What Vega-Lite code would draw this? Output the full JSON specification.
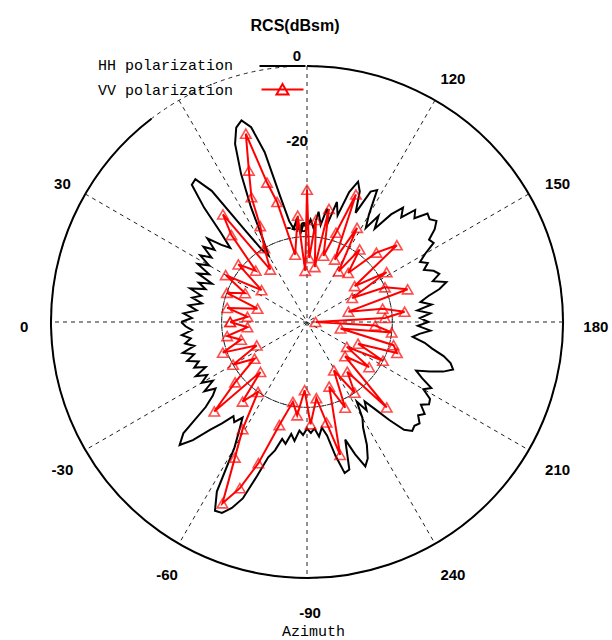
{
  "$schema": "https://vega.github.io/schema/vega-lite/v6.json",
  "width": 600,
  "height": 600,
  "autosize": {"type": "none"},
  "padding": {"left": 7, "top": 22, "right": 5, "bottom": 18},
  "background": "white",
  "config": {"view": {"stroke": null}, "axisY": {"disable": true}},
  "title": {"text": "RCS(dBsm)", "font": "Liberation Sans", "fontSize": 16, "fontWeight": "bold", "anchor": "middle", "offset": -12, "dx": -12, "color": "black"},
  "datasets": {
    "rcs": [
      {"s":"HH","az":0,"v":-30.5},{"s":"HH","az":2,"v":-33},{"s":"HH","az":4,"v":-31},{"s":"HH","az":6,"v":-34},{"s":"HH","az":8,"v":-32},{"s":"HH","az":10,"v":-35},{"s":"HH","az":12,"v":-32.5},{"s":"HH","az":14,"v":-34.5},{"s":"HH","az":16,"v":-31.5},{"s":"HH","az":18,"v":-35},{"s":"HH","az":20,"v":-33},{"s":"HH","az":22,"v":-36},{"s":"HH","az":24,"v":-32},{"s":"HH","az":26,"v":-34.5},{"s":"HH","az":28,"v":-31},{"s":"HH","az":30,"v":-33.5},{"s":"HH","az":32,"v":-30.5},{"s":"HH","az":34,"v":-33},{"s":"HH","az":36,"v":-30},{"s":"HH","az":38,"v":-32.5},{"s":"HH","az":40,"v":-29.5},{"s":"HH","az":42,"v":-33},{"s":"HH","az":44,"v":-35},{"s":"HH","az":46,"v":-31},{"s":"HH","az":48,"v":-24},{"s":"HH","az":50,"v":-18},{"s":"HH","az":52,"v":-17.5},{"s":"HH","az":54,"v":-22},{"s":"HH","az":56,"v":-34},{"s":"HH","az":58,"v":-40},{"s":"HH","az":60,"v":-42},{"s":"HH","az":62,"v":-38},{"s":"HH","az":64,"v":-30},{"s":"HH","az":66,"v":-22},{"s":"HH","az":68,"v":-15},{"s":"HH","az":70,"v":-11.5},{"s":"HH","az":72,"v":-10.3},{"s":"HH","az":74,"v":-12.5},{"s":"HH","az":76,"v":-19},{"s":"HH","az":78,"v":-30},{"s":"HH","az":80,"v":-36},{"s":"HH","az":82,"v":-38},{"s":"HH","az":84,"v":-36},{"s":"HH","az":86,"v":-39},{"s":"HH","az":88,"v":-37},{"s":"HH","az":90,"v":-38},{"s":"HH","az":92,"v":-36},{"s":"HH","az":94,"v":-38},{"s":"HH","az":96,"v":-34},{"s":"HH","az":98,"v":-37},{"s":"HH","az":100,"v":-33},{"s":"HH","az":102,"v":-36},{"s":"HH","az":104,"v":-31},{"s":"HH","az":106,"v":-34},{"s":"HH","az":108,"v":-28},{"s":"HH","az":110,"v":-25},{"s":"HH","az":112,"v":-27},{"s":"HH","az":114,"v":-32},{"s":"HH","az":116,"v":-26},{"s":"HH","az":118,"v":-25},{"s":"HH","az":120,"v":-31},{"s":"HH","az":122,"v":-34},{"s":"HH","az":124,"v":-30},{"s":"HH","az":126,"v":-33},{"s":"HH","az":128,"v":-28},{"s":"HH","az":130,"v":-25},{"s":"HH","az":132,"v":-27},{"s":"HH","az":134,"v":-23.5},{"s":"HH","az":136,"v":-25},{"s":"HH","az":138,"v":-22},{"s":"HH","az":140,"v":-22.5},{"s":"HH","az":142,"v":-21.5},{"s":"HH","az":144,"v":-23},{"s":"HH","az":146,"v":-25.5},{"s":"HH","az":148,"v":-25},{"s":"HH","az":150,"v":-28},{"s":"HH","az":152,"v":-30},{"s":"HH","az":154,"v":-28.5},{"s":"HH","az":156,"v":-30},{"s":"HH","az":158,"v":-28},{"s":"HH","az":160,"v":-27},{"s":"HH","az":162,"v":-29},{"s":"HH","az":164,"v":-26},{"s":"HH","az":166,"v":-28},{"s":"HH","az":168,"v":-31},{"s":"HH","az":170,"v":-33},{"s":"HH","az":172,"v":-30.5},{"s":"HH","az":174,"v":-34},{"s":"HH","az":176,"v":-31},{"s":"HH","az":178,"v":-33.5},{"s":"HH","az":180,"v":-31.5},{"s":"HH","az":182,"v":-34},{"s":"HH","az":184,"v":-31},{"s":"HH","az":186,"v":-33.5},{"s":"HH","az":188,"v":-35},{"s":"HH","az":190,"v":-32},{"s":"HH","az":192,"v":-30},{"s":"HH","az":194,"v":-27},{"s":"HH","az":196,"v":-25},{"s":"HH","az":198,"v":-24},{"s":"HH","az":200,"v":-26},{"s":"HH","az":202,"v":-29},{"s":"HH","az":204,"v":-32},{"s":"HH","az":206,"v":-30},{"s":"HH","az":208,"v":-27},{"s":"HH","az":210,"v":-28.5},{"s":"HH","az":212,"v":-26},{"s":"HH","az":214,"v":-25.5},{"s":"HH","az":216,"v":-27},{"s":"HH","az":218,"v":-25},{"s":"HH","az":220,"v":-26},{"s":"HH","az":222,"v":-24.5},{"s":"HH","az":224,"v":-25},{"s":"HH","az":226,"v":-24.5},{"s":"HH","az":228,"v":-26},{"s":"HH","az":230,"v":-30},{"s":"HH","az":232,"v":-34},{"s":"HH","az":234,"v":-37},{"s":"HH","az":236,"v":-35},{"s":"HH","az":238,"v":-38},{"s":"HH","az":240,"v":-34},{"s":"HH","az":242,"v":-32},{"s":"HH","az":244,"v":-28},{"s":"HH","az":246,"v":-25},{"s":"HH","az":248,"v":-23.5},{"s":"HH","az":250,"v":-27},{"s":"HH","az":252,"v":-31},{"s":"HH","az":254,"v":-24},{"s":"HH","az":256,"v":-23.5},{"s":"HH","az":258,"v":-28},{"s":"HH","az":260,"v":-33},{"s":"HH","az":262,"v":-35},{"s":"HH","az":264,"v":-33},{"s":"HH","az":266,"v":-35},{"s":"HH","az":268,"v":-34},{"s":"HH","az":270,"v":-35},{"s":"HH","az":272,"v":-33.5},{"s":"HH","az":274,"v":-34.5},{"s":"HH","az":276,"v":-32},{"s":"HH","az":278,"v":-33.5},{"s":"HH","az":280,"v":-31},{"s":"HH","az":282,"v":-32},{"s":"HH","az":284,"v":-29},{"s":"HH","az":286,"v":-27},{"s":"HH","az":288,"v":-22},{"s":"HH","az":290,"v":-16},{"s":"HH","az":292,"v":-13},{"s":"HH","az":294,"v":-11},{"s":"HH","az":296,"v":-10.8},{"s":"HH","az":298,"v":-15},{"s":"HH","az":300,"v":-26},{"s":"HH","az":302,"v":-30},{"s":"HH","az":304,"v":-33},{"s":"HH","az":306,"v":-31},{"s":"HH","az":308,"v":-32},{"s":"HH","az":310,"v":-29},{"s":"HH","az":312,"v":-26},{"s":"HH","az":314,"v":-21.5},{"s":"HH","az":316,"v":-18.5},{"s":"HH","az":318,"v":-21},{"s":"HH","az":320,"v":-29},{"s":"HH","az":322,"v":-32},{"s":"HH","az":324,"v":-33.5},{"s":"HH","az":326,"v":-31},{"s":"HH","az":328,"v":-34},{"s":"HH","az":330,"v":-31.5},{"s":"HH","az":332,"v":-33.5},{"s":"HH","az":334,"v":-31},{"s":"HH","az":336,"v":-34},{"s":"HH","az":338,"v":-31.5},{"s":"HH","az":340,"v":-33},{"s":"HH","az":342,"v":-30.5},{"s":"HH","az":344,"v":-32.5},{"s":"HH","az":346,"v":-30},{"s":"HH","az":348,"v":-33},{"s":"HH","az":350,"v":-31},{"s":"HH","az":352,"v":-32.5},{"s":"HH","az":354,"v":-30.5},{"s":"HH","az":356,"v":-33},{"s":"HH","az":358,"v":-31.5},{"s":"HH","az":360,"v":-30.5},
      {"s":"VV","az":0,"v":-42},{"s":"VV","az":5,"v":-46},{"s":"VV","az":10,"v":-41},{"s":"VV","az":15,"v":-48},{"s":"VV","az":20,"v":-40},{"s":"VV","az":25,"v":-44},{"s":"VV","az":30,"v":-38},{"s":"VV","az":35,"v":-47},{"s":"VV","az":40,"v":-39},{"s":"VV","az":45,"v":-43},{"s":"VV","az":49,"v":-33},{"s":"VV","az":52,"v":-28},{"s":"VV","az":55,"v":-45},{"s":"VV","az":60,"v":-40},{"s":"VV","az":64,"v":-35},{"s":"VV","az":66,"v":-28},{"s":"VV","az":69,"v":-22},{"s":"VV","az":72,"v":-13.6},{"s":"VV","az":74,"v":-26},{"s":"VV","az":76,"v":-31},{"s":"VV","az":80,"v":-44},{"s":"VV","az":85,"v":-35},{"s":"VV","az":88,"v":-48},{"s":"VV","az":90,"v":-29},{"s":"VV","az":92,"v":-45},{"s":"VV","az":95,"v":-36},{"s":"VV","az":98,"v":-47},{"s":"VV","az":101,"v":-33},{"s":"VV","az":104,"v":-44},{"s":"VV","az":108,"v":-38},{"s":"VV","az":111,"v":-28},{"s":"VV","az":114,"v":-44},{"s":"VV","az":118,"v":-35},{"s":"VV","az":122,"v":-46},{"s":"VV","az":126,"v":-39},{"s":"VV","az":130,"v":-45},{"s":"VV","az":135,"v":-37},{"s":"VV","az":139.5,"v":-32.3},{"s":"VV","az":143,"v":-46},{"s":"VV","az":148,"v":-38},{"s":"VV","az":152,"v":-48},{"s":"VV","az":156,"v":-40},{"s":"VV","az":162,"v":-35.2},{"s":"VV","az":166,"v":-50},{"s":"VV","az":170,"v":-42},{"s":"VV","az":174,"v":-37},{"s":"VV","az":177,"v":-41.7},{"s":"VV","az":180,"v":-58},{"s":"VV","az":183,"v":-44},{"s":"VV","az":187,"v":-40},{"s":"VV","az":191,"v":-52},{"s":"VV","az":195,"v":-39},{"s":"VV","az":199,"v":-37.7},{"s":"VV","az":203,"v":-47},{"s":"VV","az":207,"v":-40},{"s":"VV","az":212,"v":-49},{"s":"VV","az":216,"v":-42},{"s":"VV","az":222,"v":-48},{"s":"VV","az":227,"v":-32.6},{"s":"VV","az":231,"v":-45},{"s":"VV","az":236,"v":-40},{"s":"VV","az":241,"v":-47},{"s":"VV","az":246,"v":-38},{"s":"VV","az":251,"v":-44},{"s":"VV","az":256,"v":-27.9},{"s":"VV","az":259,"v":-36},{"s":"VV","az":263,"v":-42},{"s":"VV","az":268,"v":-36},{"s":"VV","az":272,"v":-44},{"s":"VV","az":276,"v":-38},{"s":"VV","az":280,"v":-41},{"s":"VV","az":285,"v":-35},{"s":"VV","az":289,"v":-25},{"s":"VV","az":292,"v":-18},{"s":"VV","az":295,"v":-13.1},{"s":"VV","az":298,"v":-24},{"s":"VV","az":301,"v":-30.7},{"s":"VV","az":305,"v":-40},{"s":"VV","az":309,"v":-36},{"s":"VV","az":313,"v":-44},{"s":"VV","az":316,"v":-29.8},{"s":"VV","az":320,"v":-38},{"s":"VV","az":325,"v":-45},{"s":"VV","az":330,"v":-40},{"s":"VV","az":335,"v":-47},{"s":"VV","az":340,"v":-39},{"s":"VV","az":345,"v":-44},{"s":"VV","az":350,"v":-41},{"s":"VV","az":355,"v":-46},{"s":"VV","az":360,"v":-42}
    ],
    "spokes": [{"az":0},{"az":30},{"az":60},{"az":90},{"az":120},{"az":150}],
    "rings": [{"r":20},{"r":40}],
    "outer": [{"r":60}],
    "azlabels": [{"t":"0","az":0},{"t":"30","az":30},{"t":"120","az":120},{"t":"150","az":150},{"t":"180","az":180},{"t":"210","az":210},{"t":"240","az":240},{"t":"-90","az":270},{"t":"-60","az":300},{"t":"-30","az":330}],
    "rlabels": [{"t":"0","v":0},{"t":"-20","v":-20},{"t":"-40","v":-40}]
  },
  "layer": [
    {
      "data": {"name": "rings"},
      "mark": {"type": "arc", "theta": 0, "theta2": 6.2832, "filled": false, "stroke": "#222", "strokeWidth": 1, "strokeDash": [4, 4]},
      "encoding": {
        "radius": {"field": "r", "type": "quantitative", "scale": {"type": "linear", "domain": [0, 70.31], "range": [0, 300], "zero": true, "nice": false}, "legend": null}
      }
    },
    {
      "data": {"name": "outer"},
      "mark": {"type": "arc", "theta": 0, "theta2": 5.63, "filled": false, "stroke": "black", "strokeWidth": 2},
      "encoding": {
        "radius": {"field": "r", "type": "quantitative", "scale": {"type": "linear", "domain": [0, 70.31], "range": [0, 300], "zero": true, "nice": false}},
        "radius2": {"field": "r"}
      }
    },
    {
      "data": {"name": "spokes"},
      "transform": [
        {"calculate": "60*cos(datum.az*PI/180)", "as": "x"},
        {"calculate": "60*sin(datum.az*PI/180)", "as": "y"},
        {"calculate": "-datum.x", "as": "x2"},
        {"calculate": "-datum.y", "as": "y2"}
      ],
      "mark": {"type": "rule", "stroke": "#222", "strokeWidth": 1, "strokeDash": [4, 4]},
      "encoding": {
        "x": {"field": "x", "type": "quantitative", "scale": {"domain": [-70.31, 70.31], "nice": false, "zero": false},
              "axis": {"title": "Azimuth", "labels": false, "ticks": false, "domain": false, "grid": false, "titleFont": "Liberation Mono", "titleFontSize": 15, "titleFontWeight": "normal", "titleColor": "black", "titlePadding": 1, "titleX": 306}},
        "y": {"field": "y", "type": "quantitative", "scale": {"domain": [-70.31, 70.31], "nice": false, "zero": false}},
        "x2": {"field": "x2"},
        "y2": {"field": "y2"}
      }
    },
    {
      "data": {"name": "azlabels"},
      "transform": [
        {"calculate": "-67*cos(datum.az*PI/180)", "as": "x"},
        {"calculate": "67*sin(datum.az*PI/180)", "as": "y"}
      ],
      "mark": {"type": "text", "font": "Liberation Sans", "fontSize": 15, "fontWeight": "bold", "color": "black", "align": "center", "baseline": "middle", "dx": 3, "dy": 5},
      "encoding": {
        "x": {"field": "x", "type": "quantitative", "scale": {"domain": [-70.31, 70.31], "nice": false, "zero": false}},
        "y": {"field": "y", "type": "quantitative", "scale": {"domain": [-70.31, 70.31], "nice": false, "zero": false}},
        "text": {"field": "t"}
      }
    },
    {
      "data": {"name": "rlabels"},
      "transform": [{"calculate": "datum.v+60", "as": "y"}],
      "mark": {"type": "text", "font": "Liberation Sans", "fontSize": 15, "fontWeight": "bold", "color": "black", "align": "center", "baseline": "bottom", "dx": -10, "dy": -2},
      "encoding": {
        "x": {"datum": 0, "type": "quantitative", "scale": {"domain": [-70.31, 70.31], "nice": false, "zero": false}},
        "y": {"field": "y", "type": "quantitative", "scale": {"domain": [-70.31, 70.31], "nice": false, "zero": false}},
        "text": {"field": "t"}
      }
    },
    {
      "data": {"name": "rcs"},
      "transform": [
        {"calculate": "-(max(datum.v,-60)+60)*cos(datum.az*PI/180)", "as": "x"},
        {"calculate": "(max(datum.v,-60)+60)*sin(datum.az*PI/180)", "as": "y"}
      ],
      "mark": {"type": "line", "strokeWidth": 2, "strokeJoin": "miter"},
      "encoding": {
        "x": {"field": "x", "type": "quantitative", "scale": {"domain": [-70.31, 70.31], "nice": false, "zero": false}},
        "y": {"field": "y", "type": "quantitative", "scale": {"domain": [-70.31, 70.31], "nice": false, "zero": false}},
        "order": {"field": "az", "type": "quantitative"},
        "color": {"field": "s", "type": "nominal", "scale": {"domain": ["HH", "VV"], "range": ["black", "red"]},
          "legend": {
            "orient": "none", "legendX": 268, "legendY": 35, "title": null,
            "symbolSize": 100, "symbolStrokeWidth": 2, "symbolType": "stroke",
            "labelFont": "Liberation Mono", "labelFontSize": 15, "labelColor": "black",
            "labelAlign": "right", "labelOffset": -57, "rowPadding": 7,
            "labelExpr": "datum.label == 'HH' ? 'HH polarization' : 'VV polarization'",
            "encode": {"symbols": {"update": {
              "shape": {"signal": "datum.value == 'VV' ? 'M-4.2,0H4.2M0,-1.1L1.2,1L-1.2,1Z' : 'M-4.6,0.3H4.6'"},
              "fill": {"value": "transparent"}
            }}}
          }}
      }
    },
    {
      "data": {"name": "rcs"},
      "transform": [
        {"filter": "datum.s == 'VV'"},
        {"calculate": "-(max(datum.v,-60)+60)*cos(datum.az*PI/180)", "as": "x"},
        {"calculate": "(max(datum.v,-60)+60)*sin(datum.az*PI/180)", "as": "y"}
      ],
      "mark": {"type": "point", "shape": "triangle-up", "filled": false, "color": "red", "size": 110, "strokeWidth": 1.6},
      "encoding": {
        "x": {"field": "x", "type": "quantitative", "scale": {"domain": [-70.31, 70.31], "nice": false, "zero": false}},
        "y": {"field": "y", "type": "quantitative", "scale": {"domain": [-70.31, 70.31], "nice": false, "zero": false}}
      }
    }
  ]
}
